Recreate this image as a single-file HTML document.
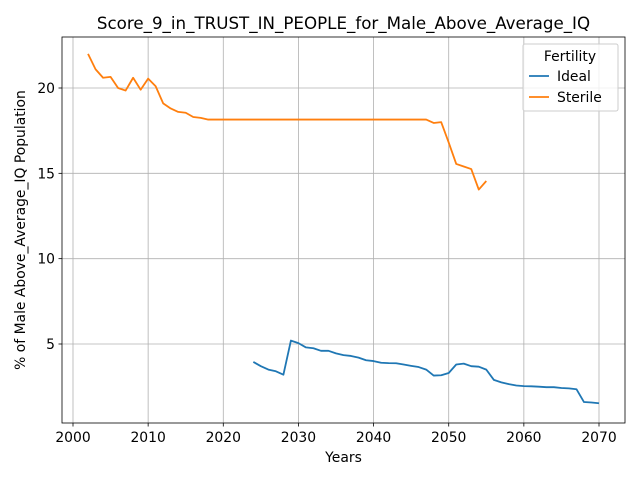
<!DOCTYPE html>
<html><head><meta charset="utf-8"><style>body{margin:0;background:#fff}svg{font-family:"DejaVu Sans","Liberation Sans",sans-serif}</style></head>
<body>
<svg id="chart" width="640" height="480">
<rect width="640" height="480" fill="#fff"/>
<g id="grid"></g><g id="series"></g>
<rect x="62" y="37" width="563" height="386" fill="none" stroke="#000" stroke-width="0.8"/>
<g id="ticks" font-size="13.9"></g>
<text x="343.5" y="29" font-size="16.7" text-anchor="middle">Score_9_in_TRUST_IN_PEOPLE_for_Male_Above_Average_IQ</text>
<text x="343.5" y="462" font-size="13.9" text-anchor="middle">Years</text>
<text transform="translate(25,230) rotate(-90)" font-size="13.9" text-anchor="middle">% of Male Above_Average_IQ Population</text>
<g>
<rect x="523" y="44" width="95" height="67" rx="2" fill="#fff" fill-opacity="0.8" stroke="#ccc"/>
<text x="570" y="61" font-size="13.9" text-anchor="middle">Fertility</text>
<line x1="529" y1="76" x2="549" y2="76" stroke="#1f77b4" stroke-width="1.8"/>
<text x="557" y="81" font-size="13.9">Ideal</text>
<line x1="529" y1="97" x2="549" y2="97" stroke="#ff7f0e" stroke-width="1.8"/>
<text x="557" y="102" font-size="13.9">Sterile</text>
</g>
</svg>
<script>
const xTicks=[2000,2010,2020,2030,2040,2050,2060,2070];
const yTicks=[5,10,15,20];
const sterileYears=[];for(let y=2002;y<=2055;y++)sterileYears.push(y);
const sterileValues=[22.0,21.1,20.6,20.65,20.0,19.85,20.6,19.9,20.55,20.1,19.1,18.8,18.6,18.55,18.3,18.25,18.15,18.15,18.15,18.15,18.15,18.15,18.15,18.15,18.15,18.15,18.15,18.15,18.15,18.15,18.15,18.15,18.15,18.15,18.15,18.15,18.15,18.15,18.15,18.15,18.15,18.15,18.15,18.15,18.15,18.15,17.95,18.0,16.8,15.55,15.4,15.25,14.05,14.55];
const idealYears=[];for(let y=2024;y<=2070;y++)idealYears.push(y);
const idealValues=[3.95,3.7,3.5,3.4,3.2,5.2,5.05,4.8,4.75,4.6,4.6,4.45,4.35,4.3,4.2,4.05,4.0,3.9,3.88,3.87,3.8,3.72,3.65,3.5,3.15,3.17,3.3,3.8,3.85,3.7,3.67,3.5,2.9,2.75,2.65,2.57,2.53,2.52,2.5,2.47,2.47,2.42,2.4,2.35,1.6,1.57,1.53];
const X=v=>73+(v-2000)*(526/70);
const Y=v=>88+(20-v)*(256/15);
const NS='http://www.w3.org/2000/svg';
const g=document.getElementById('grid'),t=document.getElementById('ticks'),s=document.getElementById('series');
function mk(tag,attrs,parent){const e=document.createElementNS(NS,tag);for(const k in attrs)e.setAttribute(k,attrs[k]);parent.appendChild(e);return e;}
xTicks.forEach(v=>{
 const l=mk('line',{x1:X(v),x2:X(v),y1:37,y2:423,stroke:'#b0b0b0','stroke-width':0.8},g);
 
 
 mk('line',{x1:X(v),x2:X(v),y1:423,y2:426.5,stroke:'#000','stroke-width':0.8},t);
 const tx=mk('text',{x:X(v),y:442,'text-anchor':'middle'},t);tx.textContent=v;
 
 
});
yTicks.forEach(v=>{
 const l=mk('line',{x1:62,x2:625,y1:Y(v),y2:Y(v),stroke:'#b0b0b0','stroke-width':0.8},g);
 
 
 mk('line',{x1:58.5,x2:62,y1:Y(v),y2:Y(v),stroke:'#000','stroke-width':0.8},t);
 const tx=mk('text',{x:55,y:Y(v)+5,'text-anchor':'end'},t);tx.textContent=v;
 
 
});
function line(xs,ys,color,name){
 const p=mk('polyline',{points:xs.map((x,i)=>X(x)+','+Y(ys[i])).join(' '),fill:'none',stroke:color,'stroke-width':1.8,'stroke-linejoin':'round'},s);
 
 
}
line(idealYears,idealValues,'#1f77b4','ideal-line');
line(sterileYears,sterileValues,'#ff7f0e','sterile-line');
</script>
</body></html>
